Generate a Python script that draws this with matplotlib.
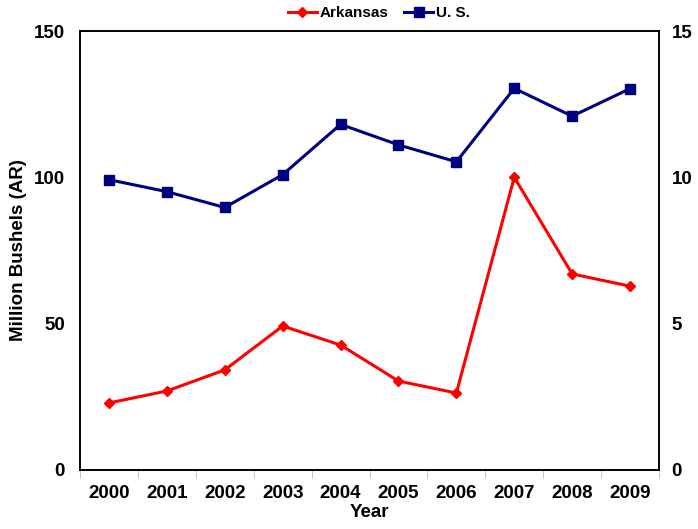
import matplotlib
matplotlib.use("Agg")
import matplotlib.pyplot as plt
import numpy as np

years = ["2000", "2001", "2002", "2003", "2004", "2005", "2006", "2007", "2008", "2009"]
arkansas = [22.9, 27.0, 34.2, 49.2, 42.7, 30.4, 26.3, 100.0, 67.0, 62.8]
us = [9.92, 9.51, 8.97, 10.09, 11.81, 11.11, 10.53, 13.04, 12.09, 13.03]

plt.rcParams['font.family'] = ['Liberation Sans', 'DejaVu Sans']
plt.rcParams['font.weight'] = 'bold'

fig = plt.figure(figsize=(6.98, 5.29), dpi=100)
ax = fig.add_axes([80/698, 59/529, 579/698, 439/529])
ax2 = ax.twinx()

x = np.arange(len(years))
l1, = ax.plot(x, arkansas, color='#FF0000', lw=2.2, marker='D', ms=5.5, label='Arkansas')
l2, = ax2.plot(x, us, color='#000080', lw=2.2, marker='s', ms=7, label='U. S.')

ax.set_xlim(-0.5, len(years) - 0.5)
ax.set_ylim(0, 150)
ax2.set_ylim(0, 15)
ax.set_yticks([0, 50, 100, 150])
ax2.set_yticks([0, 5, 10, 15])

ax.set_xticks(x)
ax.set_xticklabels(years, fontsize=13.5, fontweight='bold')
ax.tick_params(axis='x', which='major', length=0, pad=11)
ax.set_xticks(np.arange(-0.5, len(years)), minor=True)
ax.tick_params(axis='x', which='minor', length=6, color='#bbbbbb', direction='out')

ax.tick_params(axis='y', length=0, labelsize=13.5, pad=11)
ax2.tick_params(axis='y', length=0, labelsize=13.5, pad=9)
for lab in ax.get_yticklabels() + ax2.get_yticklabels():
    lab.set_fontweight('bold')

for a in (ax, ax2):
    for s in a.spines.values():
        s.set_linewidth(1.2)
        s.set_color('black')

ax.set_ylabel('Million Bushels (AR)', fontsize=13.5, fontweight='bold')
ax.yaxis.set_label_coords(-0.091, 0.5)
ax.set_xlabel('Year', fontsize=13.5, fontweight='bold')
ax.xaxis.set_label_coords(0.5, -0.077)

fig.legend(handles=[l1, l2], loc='center', bbox_to_anchor=(379/698, 1 - 13/529), ncol=2,
           frameon=False, handlelength=1.9, columnspacing=1.0, handletextpad=0.2,
           borderaxespad=0, borderpad=0,
           prop={'weight': 'bold', 'size': 11})

fig.savefig('out.png', dpi=100)
